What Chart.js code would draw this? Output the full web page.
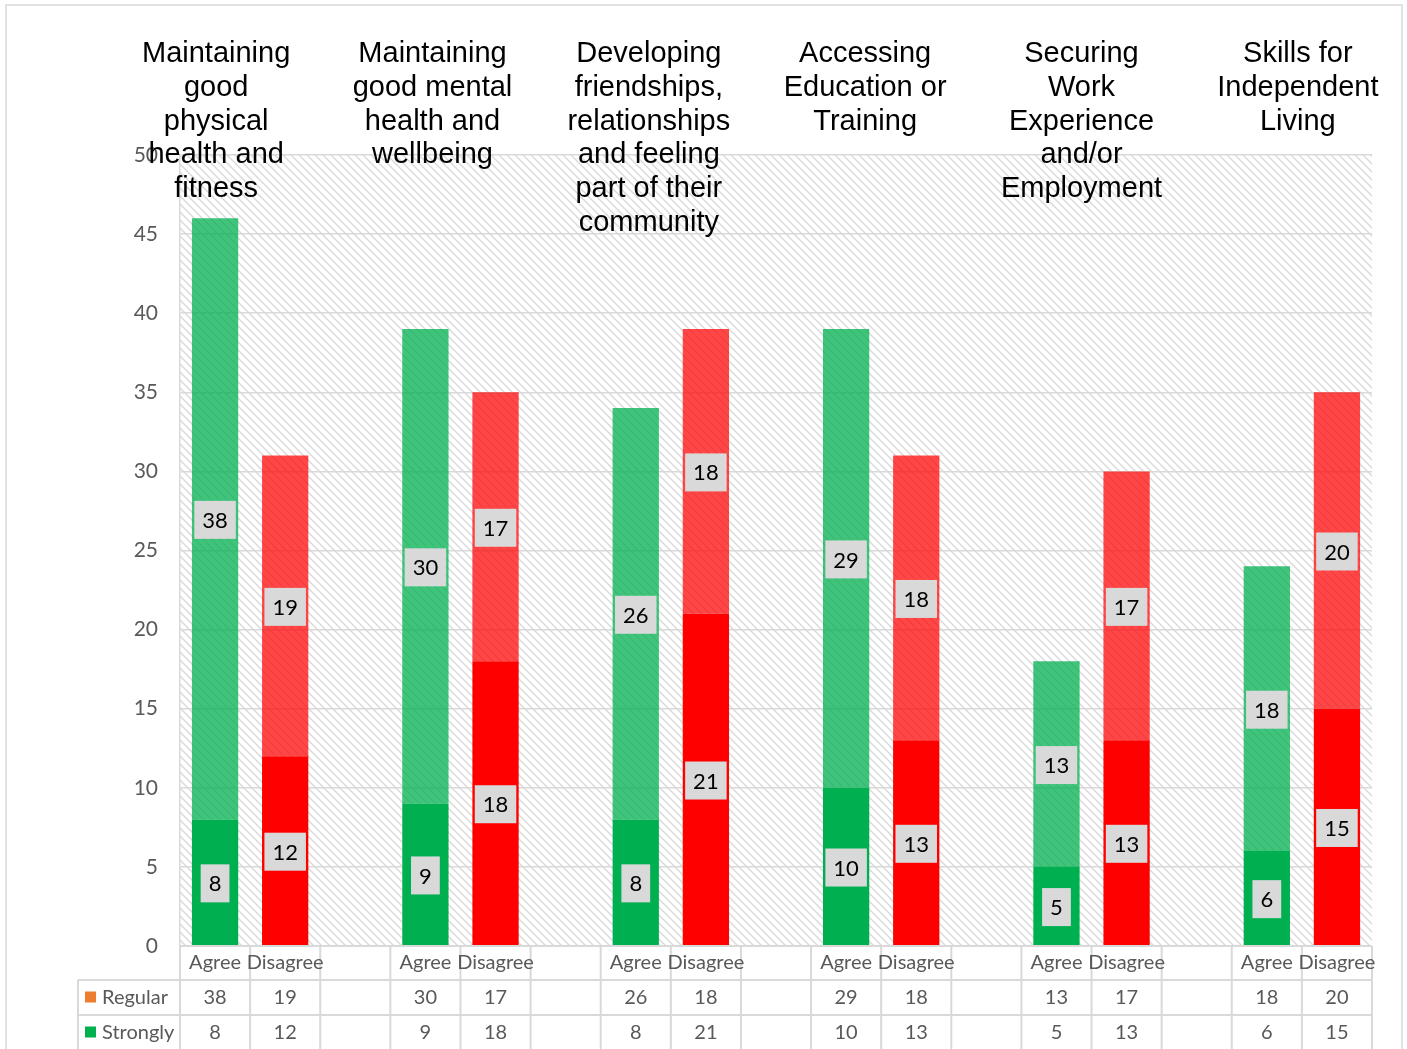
<!DOCTYPE html>
<html lang="en">
<head>
    <meta charset="UTF-8">
    <title>Agree / Disagree by outcome</title>
    <script src="https://cdn.jsdelivr.net/npm/chart.js@4.4.1/dist/chart.umd.min.js"></script>
    <style>
        html, body { margin: 0; padding: 0; background: #fff; }
        #wrap { width: 1407px; height: 1049px; }
    </style>
</head>
<body>
<div id="wrap"><canvas id="myChart" width="1407" height="1049"></canvas></div>
<script>
    // group titles (one line per entry, as wrapped in the original)
    var groupTitles = [
        ["Maintaining", "good", "physical", "health and", "fitness"],
        ["Maintaining", "good mental", "health and", "wellbeing"],
        ["Developing", "friendships,", "relationships", "and feeling", "part of their", "community"],
        ["Accessing", "Education or", "Training"],
        ["Securing", "Work", "Experience", "and/or", "Employment"],
        ["Skills for", "Independent", "Living"]
    ];
    var barNames = ["Agree", "Disagree"];

    var regularAgree = [38, 30, 26, 29, 13, 18];
    var regularDisagree = [19, 17, 18, 18, 17, 20];
    var stronglyAgree = [8, 9, 8, 10, 5, 6];
    var stronglyDisagree = [12, 18, 21, 13, 13, 15];

    var yTicks = [0, 5, 10, 15, 20, 25, 30, 35, 40, 45, 50];

    // build 17 columns: Agree, Disagree, gap, Agree, Disagree, gap ...
    var labels = [], regular = [], strongly = [], kinds = [];
    for (let g = 0; g < groupTitles.length; g++) {
        labels.push(barNames[0], barNames[1]);
        regular.push(regularAgree[g], regularDisagree[g]);
        strongly.push(stronglyAgree[g], stronglyDisagree[g]);
        kinds.push("a", "d");
        if (g < groupTitles.length - 1) {
            labels.push("");
            regular.push(null);
            strongly.push(null);
            kinds.push("");
        }
    }

    var GREEN = "#00b050", RED = "#ff0000";
    var GREEN_LIGHT = "rgba(0,176,80,0.75)", RED_LIGHT = "rgba(255,0,0,0.72)";
    var GRID = "#d9d9d9", TEXT_GRAY = "#595959";
    var SMALL_FONT = "20px Lato";

    function hatch(color) {
        var c = document.createElement("canvas");
        c.width = 8; c.height = 8;
        var x = c.getContext("2d");
        x.strokeStyle = color;
        x.lineWidth = 1.4;
        x.beginPath();
        x.moveTo(-1, -1); x.lineTo(9, 9);
        x.moveTo(-1, 7); x.lineTo(1, 9);
        x.moveTo(7, -1); x.lineTo(9, 1);
        x.stroke();
        return c;
    }

    var backPlugin = {
        id: "back",
        beforeDraw(chart) {
            const ctx = chart.ctx, a = chart.chartArea;
            ctx.save();
            ctx.fillStyle = "#fff";
            ctx.fillRect(0, 0, chart.width, chart.height);
            ctx.strokeStyle = GRID;
            ctx.lineWidth = 1.5;
            ctx.strokeRect(6, 5, 1396, 1060);
            ctx.fillStyle = ctx.createPattern(hatch("#d9d9d9"), "repeat");
            ctx.fillRect(a.left, a.top, a.right - a.left, a.bottom - a.top);
            ctx.restore();
        }
    };

    var labelPlugin = {
        id: "valueLabels",
        afterDatasetsDraw(chart) {
            const ctx = chart.ctx;
            ctx.save();
            ctx.font = "22px Lato";
            ctx.textAlign = "center";
            ctx.textBaseline = "middle";
            chart.data.datasets.forEach(function (ds, di) {
                chart.getDatasetMeta(di).data.forEach(function (el, i) {
                    const v = ds.data[i];
                    if (v == null) return;
                    const cy = (el.y + el.base) / 2 + 1;
                    const txt = String(v);
                    const w = ctx.measureText(txt).width + 16;
                    ctx.fillStyle = "#d9d9d9";
                    ctx.fillRect(el.x - w / 2, cy - 19, w, 38);
                    ctx.fillStyle = "#000";
                    ctx.fillText(txt, el.x, cy + 1);
                });
            });
            ctx.restore();
        }
    };

    var tablePlugin = {
        id: "dataTable",
        afterDraw(chart) {
            const ctx = chart.ctx, a = chart.chartArea, xs = chart.scales.x;
            const n = labels.length, cw = (a.right - a.left) / n;
            const r0 = a.bottom, r1 = a.bottom + 34, r2 = a.bottom + 69, r3 = a.bottom + 104;
            const tableLeft = 78;
            ctx.save();
            ctx.strokeStyle = GRID;
            ctx.lineWidth = 2;
            ctx.beginPath();
            ctx.moveTo(a.left, r0); ctx.lineTo(a.right, r0);
            ctx.moveTo(tableLeft, r1); ctx.lineTo(a.right, r1);
            ctx.moveTo(tableLeft, r2); ctx.lineTo(a.right, r2);
            ctx.moveTo(tableLeft, r3); ctx.lineTo(a.right, r3);
            ctx.moveTo(tableLeft, r1); ctx.lineTo(tableLeft, r3);
            for (let k = 0; k <= n; k++) {
                const x = a.left + k * cw;
                ctx.moveTo(x, r0); ctx.lineTo(x, r3);
            }
            ctx.stroke();

            ctx.font = SMALL_FONT;
            ctx.fillStyle = TEXT_GRAY;
            ctx.textAlign = "center";
            ctx.textBaseline = "middle";
            for (let i = 0; i < n; i++) {
                const x = xs.getPixelForValue(i);
                ctx.fillText(labels[i], x, (r0 + r1) / 2);
                if (regular[i] != null) ctx.fillText(String(regular[i]), x, (r1 + r2) / 2);
                if (strongly[i] != null) ctx.fillText(String(strongly[i]), x, (r2 + r3) / 2);
            }
            // series keys
            ctx.textAlign = "left";
            ctx.fillStyle = "#ed7d31";
            ctx.fillRect(tableLeft + 7, (r1 + r2) / 2 - 6, 11, 11);
            ctx.fillStyle = GREEN;
            ctx.fillRect(tableLeft + 7, (r2 + r3) / 2 - 6, 11, 11);
            ctx.fillStyle = TEXT_GRAY;
            ctx.fillText("Regular", tableLeft + 24, (r1 + r2) / 2);
            ctx.fillText("Strongly", tableLeft + 24, (r2 + r3) / 2);

            // group titles above each pair
            ctx.font = "29px 'Liberation Sans', Arial, sans-serif";
            ctx.fillStyle = "#000";
            ctx.textAlign = "center";
            const step = (a.right - a.left + 106) / groupTitles.length;
            groupTitles.forEach(function (lines, g) {
                const cx = a.left - 72 + step * (g + 0.5);
                lines.forEach(function (line, j) {
                    ctx.fillText(line, cx, 54 + j * 33.8);
                });
            });
            ctx.restore();
        }
    };

    new Chart("myChart", {
        type: "bar",
        data: {
            labels: labels,
            datasets: [
                {
                    label: "Strongly",
                    data: strongly,
                    backgroundColor: kinds.map(k => k == "d" ? RED : GREEN),
                    barPercentage: 0.66,
                    categoryPercentage: 1
                },
                {
                    label: "Regular",
                    data: regular,
                    backgroundColor: kinds.map(k => k == "d" ? RED_LIGHT : GREEN_LIGHT),
                    barPercentage: 0.66,
                    categoryPercentage: 1
                }
            ]
        },
        options: {
            responsive: false,
            animation: false,
            layout: { padding: { left: 0, top: 155, right: 35, bottom: 103 } },
            plugins: {
                legend: { display: false },
                tooltip: { enabled: false }
            },
            scales: {
                x: {
                    stacked: true,
                    display: false
                },
                y: {
                    stacked: true,
                    min: 0,
                    max: 50,
                    afterFit: function (scale) { scale.width = 180; },
                    afterBuildTicks: function (scale) {
                        scale.ticks = yTicks.map(v => ({ value: v }));
                    },
                    grid: { color: GRID, lineWidth: 1.5, drawTicks: false },
                    border: { color: GRID, width: 1.5 },
                    ticks: {
                        color: TEXT_GRAY,
                        font: { family: "Lato", size: 21 },
                        padding: 22
                    }
                }
            }
        },
        plugins: [backPlugin, labelPlugin, tablePlugin]
    });
</script>
</body>
</html>
